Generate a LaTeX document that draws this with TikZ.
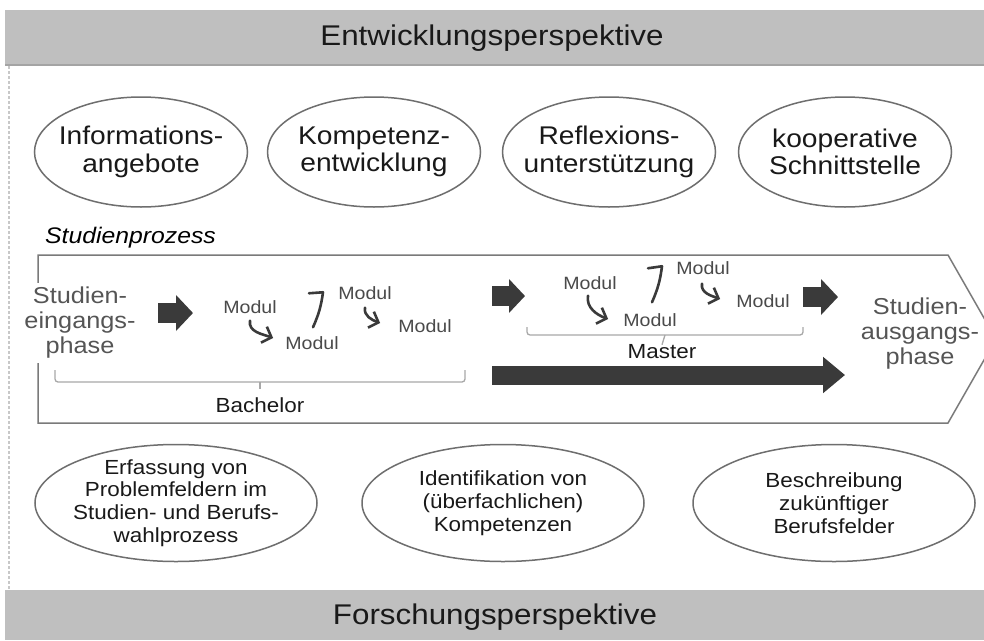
\documentclass[tikz,border=0pt]{standalone}
\usepackage{fontspec}
\setmainfont{Liberation Sans}[FakeStretch=1.1]
\usetikzlibrary{arrows.meta,positioning,calc,shapes.geometric}
\definecolor{bandFill}  {HTML}{BFBFBF}
\definecolor{bandLine}  {HTML}{A4A4A4}
\definecolor{ovalLine}  {HTML}{6E6E6E}
\definecolor{frameLine} {HTML}{7A7A7A}
\definecolor{arrowInk}  {HTML}{3A3A3A}
\definecolor{phaseInk}  {HTML}{555555}
\definecolor{modulInk}  {HTML}{4A4A4A}
\definecolor{braceLine} {HTML}{A8A8A8}
\definecolor{dashLine}  {HTML}{C8C8C8}
\tikzset{
  >=Latex,
  bandTitle/.style={font=\fontsize{28.5}{33}\selectfont,text=black!90,inner sep=0pt},
  ovalTop/.style={ellipse,draw=ovalLine,line width=1.5pt,fill=white,
                  minimum width=213pt,minimum height=110pt,inner sep=0pt},
  ovalBottom/.style={ellipse,draw=ovalLine,line width=1.5pt,fill=white,
                     minimum width=282pt,minimum height=117pt,inner sep=0pt},
  topText/.style={font=\fontsize{25.6}{27.5}\selectfont,align=center,text=black!90},
  bottomText/.style={font=\fontsize{20.4}{22.8}\selectfont,align=center,text=black!90},
  phaseText/.style={font=\fontsize{23}{25}\selectfont,align=center,text=phaseInk,inner sep=4pt},
  modul/.style={font=\fontsize{17.8}{20}\selectfont,text=modulInk,inner sep=0pt},
  degree/.style={font=\fontsize{20.4}{22}\selectfont,text=black!90,inner sep=0pt},
  blockArrow/.style={-{Triangle[length=17pt,width=35pt]},line width=20pt,arrowInk},
  modulStep/.style={-{Straight Barb[length=8pt,width=17pt,line width=2.6pt]},
                    line width=2.6pt,arrowInk,line cap=round},
  modulJump/.style={line width=2.6pt,arrowInk,line cap=round,line join=round},
  braceGrey/.style={line width=1.3pt,braceLine,rounded corners=3pt},
}

\begin{document}
\begin{tikzpicture}[x=1pt,y=-1pt]
\useasboundingbox (0,0) rectangle (984,640);
\fill[white] (0,0) rectangle (984,640);

% perspective bands
\fill[bandFill] (5,10) rectangle (984,65);
\draw[bandLine,line width=1.5pt] (5,65) -- (984,65);
\node[bandTitle] (entwicklung) at (492,38) {Entwicklungsperspektive};
\fill[bandFill] (5,590) rectangle (984,640);
\node[bandTitle] (forschung) at (495,617) {Forschungsperspektive};
\draw[dashLine,line width=1.2pt,dash pattern=on 3pt off 2pt] (9,66) -- (9,590);

% offers
\node[ovalTop,label={[topText]center:Informations-\\angebote}]     (info)      at (141,152) {};
\node[ovalTop,label={[topText]center:Kompetenz-\\entwicklung}]     (kompetenz) at (374,152) {};
\node[ovalTop,label={[topText]center:Reflexions-\\unterstützung}]  (reflexion) at (609,152) {};
\node[ovalTop,label={[topText]center:kooperative\\Schnittstelle}]  (koop)      at (845,152) {};

% study process frame
\node[font=\fontsize{22.5}{25}\selectfont\itshape,anchor=west,inner sep=0pt]
  (prozess) at (45,238) {Studienprozess};
\draw[frameLine,line width=1.5pt]
  (38,255) -- (948,255) -- (996,339) -- (948,423) -- (38,423) -- cycle;
\node[phaseText,fill=white] (eingang) at (80,323) {Studien-\\eingangs-\\phase};
\node[phaseText] (ausgang) at (920,334) {Studien-\\ausgangs-\\phase};

\node[modul] (bm1) at (250,307) {Modul};
\node[modul] (bm2) at (312,343) {Modul};
\node[modul] (bm3) at (365,293) {Modul};
\node[modul] (bm4) at (425,326) {Modul};
\node[modul] (mm1) at (590,283) {Modul};
\node[modul] (mm2) at (650,320) {Modul};
\node[modul] (mm3) at (703,268) {Modul};
\node[modul] (mm4) at (763,301) {Modul};

\draw[modulStep] ([yshift=-7pt]bm1.south) to[out=-100,in=160] ([xshift=-12pt,yshift=5pt]bm2.west);
\draw[modulJump] ([xshift=1pt,yshift=9pt]bm2.north) to[bend right=8]
  ([xshift=11pt,yshift=44pt]bm2.north) -- ++(-14,1);
\draw[modulStep] ([yshift=-8pt]bm3.south) to[out=-100,in=160] ([xshift=-18pt,yshift=3pt]bm4.west);
\draw[modulStep] ([xshift=-2pt,yshift=-6pt]mm1.south) to[out=-100,in=160] ([xshift=-15pt,yshift=1pt]mm2.west);
\draw[modulJump] ([xshift=2pt,yshift=11pt]mm2.north) to[bend right=8]
  ([xshift=12pt,yshift=47pt]mm2.north) -- ++(-14,2);
\draw[modulStep] ([xshift=-1pt,yshift=-9pt]mm3.south) to[out=-100,in=160] ([xshift=-16pt,yshift=2pt]mm4.west);

% block arrows
\coordinate (inTail)   at (158,313);
\coordinate (inTip)    at (193,313);
\coordinate (midTail)  at (492,296);
\coordinate (midTip)   at (525,296);
\coordinate (outTail)  at (803,297);
\coordinate (outTip)   at (838,297);
\coordinate (longTail) at (492,375);
\coordinate (longTip)  at (845,375);
\draw[blockArrow] (inTail) -- (inTip);
\draw[blockArrow,-{Triangle[length=16pt,width=33pt]}] (midTail) -- (midTip);
\draw[blockArrow] (outTail) -- (outTip);
\draw[blockArrow,line width=19pt,-{Triangle[length=22pt,width=35pt]}] (longTail) -- (longTip);

% degree braces
\node[degree] (bachelor) at (260,405) {Bachelor};
\node[degree] (master)   at (662,352) {Master};
\draw[braceGrey] (55,370) |- (465,382) -- (465,370);
\draw[braceGrey] (260,382) -- ([yshift=8pt]bachelor.north);
\draw[braceGrey] (527,327) |- (803,335) -- (803,327);
\draw[braceGrey] (665,335) -- (master.north);

% research foci
\node[ovalBottom,label={[bottomText]center:Erfassung von\\Problemfeldern im\\Studien- und Berufs-\\wahlprozess}]
  (erfassung) at (176,503) {};
\node[ovalBottom,label={[bottomText]center:Identifikation von\\(überfachlichen)\\Kompetenzen}]
  (identifikation) at (503,503) {};
\node[ovalBottom,label={[bottomText]center:Beschreibung\\zukünftiger\\Berufsfelder}]
  (beschreibung) at (834,503) {};

\end{tikzpicture}
\end{document}
